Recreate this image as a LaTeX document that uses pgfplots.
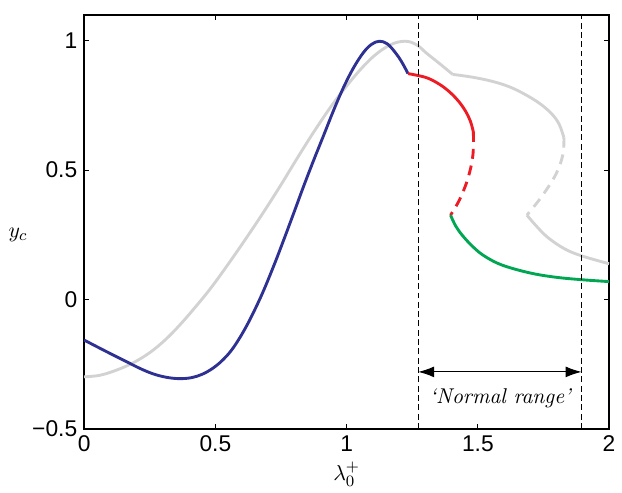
\documentclass[border=0pt]{standalone}
\usepackage{fontspec}
\usepackage{pgfplots}
\pgfplotsset{compat=1.18}
\usetikzlibrary{arrows.meta}
\newfontfamily\arial{Liberation Sans}
\definecolor{cBlue}{RGB}{46,49,146}
\definecolor{cRed}{RGB}{237,28,36}
\definecolor{cGreen}{RGB}{0,166,81}
\definecolor{cGray}{RGB}{210,210,210}
\tikzset{curve/.style={line width=1.45pt, smooth, tension=0.6}}
\begin{document}
\begin{tikzpicture}
\begin{axis}[
    scale only axis, width=265pt, height=209pt,
    xmin=0, xmax=2, ymin=-0.5, ymax=1.1,
    xtick={0,0.5,1,1.5,2}, xticklabels={0,0.5,1,1.5,2},
    ytick={-0.5,0,0.5,1}, yticklabels={−0.5,0,0.5,1},
    ticklabel style={font=\arial\fontsize{11.5}{13}\selectfont},
    tick align=inside, major tick length=2.5pt,
    tick style={black, line width=0.5pt},
    axis line style={line width=0.8pt},
    clip=false,
]
    % grey reference curve
    \addplot[curve, cGray] coordinates {
        (0,-0.299) (0.06,-0.293) (0.126,-0.272) (0.19,-0.243) (0.252,-0.204) (0.31,-0.155)
        (0.365,-0.098) (0.424,-0.029) (0.484,0.046) (0.547,0.134) (0.61,0.226) (0.68,0.332)
        (0.748,0.44) (0.81,0.543) (0.874,0.646) (0.94,0.745) (1.0,0.825) (1.045,0.880)
        (1.087,0.925) (1.12,0.954) (1.15,0.975) (1.18,0.990) (1.208,0.997) (1.235,0.997)
        (1.26,0.988) (1.282,0.973) (1.302,0.954) (1.355,0.911) (1.404,0.870)};
    \addplot[curve, cGray] coordinates {
        (1.404,0.870) (1.48,0.859) (1.555,0.843) (1.62,0.822) (1.679,0.793) (1.735,0.758) (1.781,0.718) (1.81,0.677) (1.828,0.625)};
    \addplot[curve, cGray, dash pattern=on 5pt off 3.5pt] coordinates {
        (1.828,0.625) (1.824,0.56) (1.798,0.485) (1.745,0.40) (1.687,0.326)};
    \addplot[curve, cGray] coordinates {
        (1.687,0.326) (1.72,0.287) (1.766,0.24) (1.83,0.196) (1.894,0.169) (2,0.138)};
    % blue branch
    \addplot[curve, cBlue] coordinates {
        (0,-0.157) (0.08,-0.199) (0.164,-0.242) (0.22,-0.270) (0.27,-0.290) (0.32,-0.302)
        (0.366,-0.306) (0.41,-0.302) (0.45,-0.289) (0.49,-0.266) (0.53,-0.232) (0.57,-0.184) (0.62,-0.10) (0.673,0.01)
        (0.72,0.124) (0.761,0.232) (0.8,0.338) (0.836,0.437) (0.874,0.537) (0.912,0.633) (0.95,0.73) (0.987,0.817) (1.025,0.893) (1.063,0.953)
        (1.095,0.986) (1.125,0.998) (1.155,0.988) (1.185,0.955) (1.21,0.918) (1.234,0.873)};
    % red branch
    \addplot[curve, cRed] coordinates {
        (1.234,0.873) (1.302,0.858) (1.35,0.834) (1.389,0.805) (1.425,0.768) (1.453,0.728) (1.472,0.688) (1.483,0.647)};
    \addplot[curve, cRed, dash pattern=on 5pt off 3.5pt] coordinates {
        (1.483,0.647) (1.481,0.556) (1.462,0.467) (1.43,0.385) (1.396,0.326)};
    % green branch
    \addplot[curve, cGreen] coordinates {
        (1.396,0.326) (1.415,0.285) (1.44,0.249) (1.475,0.21) (1.516,0.174) (1.575,0.14) (1.642,0.117) (1.72,0.098) (1.804,0.085) (1.9,0.076) (2,0.069)};
    % normal range limits
    \addplot[black, line width=0.5pt, dash pattern=on 3pt off 1.7pt] coordinates {(1.273,-0.5) (1.273,1.1)};
    \addplot[black, line width=0.5pt, dash pattern=on 3pt off 1.7pt] coordinates {(1.895,-0.5) (1.895,1.1)};
    \draw[black, line width=0.5pt, {Latex[length=8pt,width=5.5pt]}-{Latex[length=8pt,width=5.5pt]}]
        (axis cs:1.273,-0.28) -- (axis cs:1.895,-0.28);
    \node[font=\fontsize{10.8}{13}\selectfont\itshape] at (axis cs:1.585,-0.38) {‘Normal range’};
    % axis labels
    \node[font=\fontsize{11}{13}\selectfont] at (rel axis cs:-0.126,0.468) {$y_c$};
    \node[font=\fontsize{11}{13}\selectfont, anchor=north] at (rel axis cs:0.5,-0.062) {$\lambda_0^+$};
    \path ([xshift=-42.5pt,yshift=-28pt]rel axis cs:0,0) rectangle ([xshift=3.5pt,yshift=7.5pt]rel axis cs:1,1);
\end{axis}
\end{tikzpicture}
\end{document}
